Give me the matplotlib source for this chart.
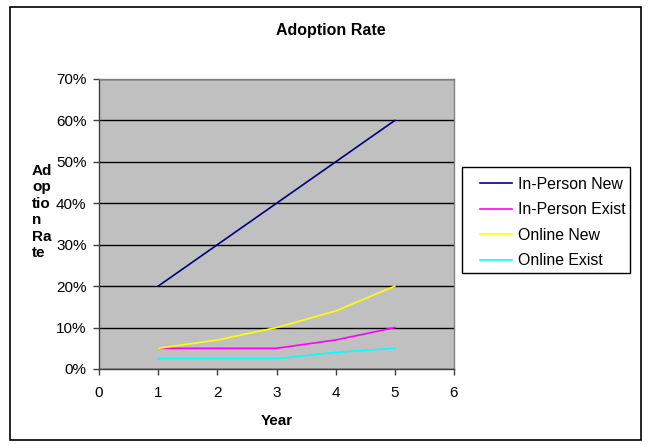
import matplotlib
matplotlib.use("Agg")
import matplotlib.pyplot as plt
from matplotlib.patches import Rectangle
from matplotlib.ticker import FuncFormatter, MultipleLocator

plt.rcParams['font.family'] = ['Liberation Sans', 'DejaVu Sans']

years = [1, 2, 3, 4, 5]
series_names = ["In-Person New", "In-Person Exist", "Online New", "Online Exist"]
in_person_new = [0.20, 0.30, 0.40, 0.50, 0.60]
in_person_exist = [0.05, 0.05, 0.05, 0.07, 0.10]
online_new = [0.05, 0.07, 0.10, 0.14, 0.20]
online_exist = [0.025, 0.025, 0.025, 0.04, 0.05]
series_colors = ["#000080", "#FF00FF", "#FFFF00", "#00FFFF"]

W, H = 652, 445
fig = plt.figure(figsize=(W / 100, H / 100), dpi=100)
fig.patch.set_facecolor("white")

# outer chart border
fig.patches.append(Rectangle((10 / W, 5 / H), 631 / W, 433 / H, transform=fig.transFigure,
                             fill=False, edgecolor="black", linewidth=1.2))

left, right, top, bottom = 99, 454, 79, 369
ax = fig.add_axes([left / W, 1 - bottom / H, (right - left) / W, (bottom - top) / H])
ax.set_facecolor("#C0C0C0")

for vals, name, col in zip([in_person_new, in_person_exist, online_new, online_exist],
                           series_names, series_colors):
    ax.plot(years, vals, color=col, linewidth=1.2, label=name, zorder=3)

ax.set_xlim(0, 6)
ax.set_ylim(0, 0.70)
ax.xaxis.set_major_locator(MultipleLocator(1))
ax.yaxis.set_major_locator(MultipleLocator(0.10))
ax.yaxis.set_major_formatter(FuncFormatter(lambda v, p: f"{v * 100:.0f}%"))
ax.grid(axis="y", color="black", linewidth=1.0, zorder=1)
ax.set_axisbelow(True)

for s in ["left", "bottom"]:
    ax.spines[s].set_color("#404040")
    ax.spines[s].set_linewidth(1.0)
for s in ["top", "right"]:
    ax.spines[s].set_color("#808080")
    ax.spines[s].set_linewidth(1.0)

ax.tick_params(axis="both", direction="out", length=4, width=1, color="#404040",
               labelsize=11, labelcolor="black")
ax.tick_params(axis="x", pad=8)
ax.tick_params(axis="y", pad=5)

ax.set_xlabel("Year", fontsize=11, fontweight="bold", labelpad=10)
fig.text(32 / W, 1 - 212 / H, "Ad\nop\ntio\nn\nRa\nte", fontsize=11, fontweight="bold",
         ha="left", va="center", linespacing=1.22)
fig.text(331 / W, 1 - 30 / H, "Adoption Rate", fontsize=11.5, fontweight="bold",
         ha="center", va="center")

# legend frame drawn separately so the inner padding can be asymmetric
fig.patches.append(Rectangle((462 / W, 1 - 273 / H), 168 / W, 106 / H, transform=fig.transFigure,
                             fill=False, edgecolor="black", linewidth=1.0))
leg = fig.legend(loc="center left", bbox_to_anchor=(480 / W, 1 - 222.5 / H),
                 frameon=False, fontsize=11.4,
                 handlelength=2.05, handletextpad=0.33, labelspacing=0.66,
                 borderpad=0, borderaxespad=0)

fig.savefig("out.png", dpi=100)
